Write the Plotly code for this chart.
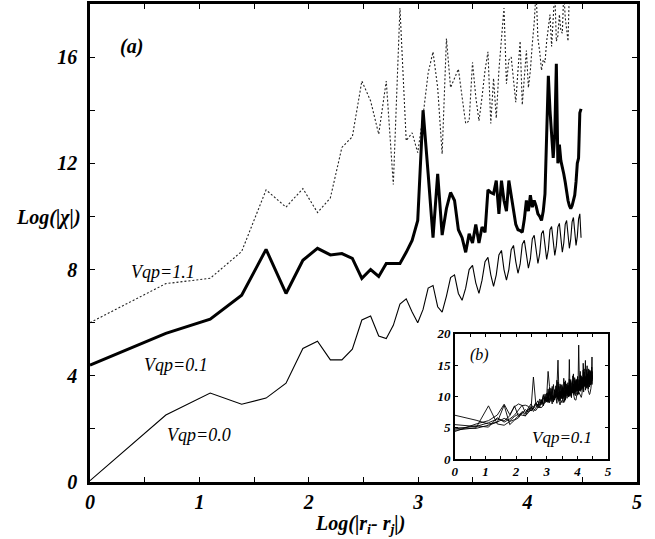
import numpy as np
import plotly.graph_objects as go

# distance |r_i - r_j| (lattice sites)
distance = list(range(1, 90))

# Panel (a): Log(|chi|) for three couplings
vqp_00 = [0.05, 2.52, 3.35, 2.93, 3.16, 3.72, 5.03, 5.3, 4.6, 4.6,
          5.0, 6.1, 6.25, 5.5, 5.4, 5.9, 6.7, 6.9, 6.4, 6.0,
          6.5, 7.3, 7.4, 6.6, 6.4, 7.0, 7.7, 7.8, 7.1, 6.84,
          7.3, 8.0, 8.16, 7.5, 7.1, 7.6, 8.3, 8.46, 7.8, 7.37,
          7.8, 8.55, 8.72, 8.0, 7.6, 8.0, 8.75, 8.91, 8.3, 7.86,
          8.2, 8.95, 9.1, 8.5, 8.05, 8.4, 9.15, 9.29, 8.7, 8.23,
          8.6, 9.35, 9.47, 8.9, 8.38, 8.75, 9.5, 9.62, 9.0, 8.53,
          8.9, 9.6, 9.74, 9.15, 8.65, 9.0, 9.7, 9.85, 9.3, 8.8,
          9.15, 9.8, 9.96, 9.4, 8.91, 9.25, 9.9, 10.1, 9.2]

vqp_01 = [4.4, 5.6, 6.13, 7.03, 8.76, 7.1, 8.35, 8.8, 8.55, 8.6,
          8.42, 7.67, 8.0, 7.74, 8.23, 8.23, 8.23, 8.65, 9.1, 9.85,
          14.0, 11.6, 9.2, 11.6, 9.3, 10.3, 10.9, 10.6, 9.5, 9.2,
          8.65, 9.35, 9.0, 9.7, 9.0, 9.6, 9.4, 11.0, 10.9, 10.85,
          11.35, 10.1, 11.35, 10.6, 10.2, 11.35, 10.8, 10.35, 9.7, 9.5,
          9.47, 9.4, 9.9, 10.6, 10.2, 10.8, 10.35, 10.6, 10.4, 10.1,
          10.0, 9.85, 10.2, 10.85, 12.7, 15.3, 14.0, 13.0, 12.2, 13.1,
          15.75, 12.0, 12.7, 12.1, 11.9, 11.6, 11.3, 10.9, 10.6, 10.4,
          10.3, 10.4, 10.6, 10.8, 11.3, 12.0, 12.2, 13.9, 14.05]

vqp_11 = [6.0, 7.47, 7.67, 8.68, 11.0, 10.35, 11.05, 10.15, 10.7, 12.6,
          13.0, 15.1, 14.35, 13.1, 15.1, 11.2, 17.85, 12.85, 13.15, 12.4,
          13.8, 15.4, 16.2, 14.85, 12.35, 16.7, 14.85, 15.2, 15.55, 14.5,
          13.5, 13.6, 15.8, 14.5, 13.6, 14.5, 15.5, 16.2, 13.5, 15.2,
          13.7, 15.5, 16.6, 17.85, 15.0, 15.9, 16.0, 15.0, 14.3, 15.5,
          16.6, 14.2, 15.2, 16.25, 14.85, 15.5, 16.5, 17.3, 18.5, 16.7,
          16.2, 15.5, 15.9, 15.8, 16.6, 17.2, 17.6, 16.4, 17.5, 18.5,
          16.6, 16.8, 17.6, 17.0, 16.9, 18.5, 17.5, 17.0, 16.6, 18.5,
          19.0, 19.4, 19.2, 19.6, 19.5, 19.8, 20.0, 19.7, 20.2]

# Panel (b): several Vqp=0.1 realisations
inset_b1 = [7.0, 6.2, 5.6, 5.9, 6.5, 6.1, 6.8, 7.2, 7.0, 6.9,
            7.4, 7.9, 13.1, 9.0, 8.2, 8.7, 9.5, 8.6, 10.4, 9.1,
            11.2, 9.4, 10.1, 8.8, 11.9, 9.5, 10.3, 8.9, 12.3, 10.0,
            9.3, 10.8, 9.6, 11.6, 9.9, 9.2, 12.5, 10.4, 9.7, 11.1,
            10.2, 12.8, 10.0, 11.3, 9.8, 12.1, 10.6, 13.6, 10.3, 11.5,
            10.1, 12.7, 10.9, 10.4, 13.1, 11.2, 10.5, 12.0, 10.9, 14.0,
            10.8, 12.2, 11.1, 12.9, 11.4, 12.5, 10.7, 14.4, 11.6, 12.1,
            11.0, 13.3, 11.9, 11.3, 14.9, 11.7, 12.4, 11.2, 13.7, 12.0,
            11.5, 14.2, 12.3, 11.8, 13.0, 12.1, 14.7, 11.9, 12.9]
inset_b2 = [4.6, 5.0, 8.5, 5.6, 5.4, 6.0, 6.3, 6.9, 7.6, 7.2,
            8.0, 7.7, 8.3, 8.9, 8.4, 9.2, 8.7, 9.8, 9.0, 10.5,
            9.3, 11.4, 9.6, 10.2, 9.1, 11.0, 9.8, 12.6, 9.5, 10.7,
            9.9, 11.8, 10.1, 9.6, 12.9, 10.4, 9.8, 11.5, 10.7, 12.2,
            10.0, 15.9, 10.5, 11.7, 10.3, 12.4, 10.9, 11.2, 10.6, 13.0,
            11.1, 10.7, 12.6, 11.4, 10.9, 12.9, 18.2, 13.8, 11.0, 12.3,
            11.6, 12.0, 12.4, 11.8, 12.7, 11.3, 13.5, 11.9, 12.2, 11.7,
            13.1, 12.4, 11.8, 14.3, 12.0, 12.8, 11.6, 13.9, 12.3, 12.0,
            13.4, 12.6, 11.9, 14.0, 12.5, 12.2, 13.2, 16.3, 12.8]
inset_b3 = [5.0, 4.9, 5.4, 5.9, 8.6, 5.5, 6.2, 6.6, 7.4, 6.9,
            7.8, 8.4, 7.6, 8.1, 8.8, 8.3, 9.4, 8.5, 9.9, 9.2,
            10.6, 9.0, 11.3, 9.7, 10.0, 9.4, 11.7, 9.9, 10.5, 9.2,
            12.0, 10.3, 9.7, 11.4, 10.0, 12.3, 9.6, 10.9, 10.4, 11.8,
            9.9, 11.0, 10.6, 12.7, 10.2, 11.3, 10.8, 12.0, 10.5, 11.6,
            12.4, 10.9, 11.5, 11.1, 13.2, 10.8, 11.9, 11.4, 12.6, 11.0,
            12.1, 13.0, 11.5, 12.2, 11.3, 14.2, 11.7, 12.5, 11.8, 13.0,
            12.0, 11.6, 12.9, 12.3, 13.6, 11.9, 12.7, 12.2, 14.4, 12.1,
            12.6, 13.1, 12.4, 13.7, 12.0, 13.3, 12.8, 12.5, 13.9]
inset_b4 = [5.5, 5.2, 5.8, 6.4, 6.1, 6.9, 8.5, 6.8, 7.3, 7.9,
            7.5, 8.2, 8.0, 8.7, 9.3, 8.6, 9.0, 10.1, 9.4, 9.8,
            9.1, 10.6, 9.7, 11.2, 9.5, 10.4, 9.9, 11.5, 15.8, 10.1,
            10.8, 9.8, 11.9, 10.3, 10.9, 10.0, 12.1, 10.6, 11.3, 10.2,
            11.7, 10.7, 12.5, 10.4, 11.1, 10.9, 13.3, 10.6, 11.8, 11.2,
            12.2, 10.9, 11.6, 12.8, 11.3, 12.0, 11.1, 12.5, 11.7, 13.4,
            11.4, 12.3, 11.9, 13.1, 11.6, 12.6, 12.0, 13.9, 11.8, 12.4,
            12.2, 12.9, 11.9, 13.6, 12.4, 12.7, 12.1, 13.2, 12.6, 14.1,
            12.3, 12.9, 12.5, 13.5, 12.7, 13.0, 14.6, 12.8, 13.3]
inset_b5 = [4.8, 5.3, 5.1, 6.6, 5.9, 6.4, 7.0, 7.8, 8.6, 7.4,
            8.2, 8.8, 8.1, 9.0, 8.5, 9.6, 8.9, 10.3, 9.3, 9.9,
            9.0, 10.8, 9.5, 10.1, 9.2, 11.1, 9.8, 10.4, 9.6, 11.6,
            9.4, 10.6, 10.0, 11.3, 9.7, 10.9, 10.3, 12.0, 10.1, 10.7,
            10.5, 11.4, 10.2, 12.2, 10.8, 11.0, 10.6, 11.9, 10.9, 12.5,
            10.7, 11.3, 11.0, 12.1, 11.5, 12.7, 11.2, 11.8, 11.4, 12.4,
            11.1, 13.3, 11.6, 12.0, 11.8, 12.8, 11.5, 12.3, 12.1, 13.1,
            11.7, 12.6, 12.0, 13.0, 11.9, 12.5, 12.3, 13.5, 12.1, 12.8,
            12.4, 13.2, 12.2, 12.9, 13.7, 12.5, 12.6, 13.4, 12.9]

main_xtickvals = [0, 1, 2, 3, 4, 5]
main_xticks = ["0", "1", "2", "3", "4", "5"]
main_ytickvals = [0, 4, 8, 12, 16]
main_yticks = ["0", "4", "8", "12", "16"]
inset_xtickvals = [0, 1, 2, 3, 4, 5]
inset_xticks = ["0", "1", "2", "3", "4", "5"]
inset_ytickvals = [0, 5, 10, 15, 20]
inset_yticks = ["0", "5", "10", "15", "20"]

SERIF = "Liberation Serif"
x_main = np.log(distance)

fig = go.Figure()
fig.add_trace(go.Scatter(x=x_main, y=vqp_11, mode="lines",
                         line=dict(color="#222", width=1.1, dash="2px,2px")))
fig.add_trace(go.Scatter(x=x_main, y=vqp_01, mode="lines",
                         line=dict(color="black", width=3)))
fig.add_trace(go.Scatter(x=x_main, y=vqp_00, mode="lines",
                         line=dict(color="black", width=1.1)))

for s in [inset_b1, inset_b2, inset_b3, inset_b4, inset_b5, vqp_01]:
    fig.add_trace(go.Scatter(x=np.log(distance[:len(s)]), y=s, mode="lines",
                             xaxis="x2", yaxis="y2",
                             line=dict(color="black", width=0.9)))

tick_font = dict(family=SERIF, size=20, color="black", style="italic", weight="bold")
small_font = dict(family=SERIF, size=13, color="black", style="italic", weight="bold")

axis_common = dict(ticks="inside", tickcolor="black", showline=True,
                   linecolor="black", mirror="ticks", showgrid=False,
                   zeroline=False, automargin=False, tickmode="array")

fig.update_layout(
    width=655, height=539,
    margin=dict(l=90, r=18, t=4, b=57, autoexpand=False),
    paper_bgcolor="white", plot_bgcolor="white",
    showlegend=False,
    xaxis=dict(domain=[0, 1], range=[0, 5],
               tickvals=main_xtickvals, ticktext=main_xticks,
               ticklen=5, tickwidth=1, linewidth=2.5, tickfont=tick_font,
               minor=dict(ticks="inside", dtick=0.5, ticklen=5, tickcolor="black", showgrid=False),
               **axis_common),
    yaxis=dict(domain=[0, 1], range=[0, 18],
               tickvals=main_ytickvals, ticktext=main_yticks,
               ticklen=5, tickwidth=1, linewidth=2.5, tickfont=tick_font,
               ticklabelstandoff=6,
               minor=dict(ticks="inside", dtick=2, ticklen=5, tickcolor="black", showgrid=False),
               **axis_common),
    xaxis2=dict(domain=[0.667, 0.947], range=[0, 5], anchor="y2",
                tickvals=inset_xtickvals, ticktext=inset_xticks,
                ticklen=3, linewidth=1.5, tickfont=small_font,
                minor=dict(ticks="inside", dtick=0.5, ticklen=3, tickcolor="black", showgrid=False),
                **axis_common),
    yaxis2=dict(domain=[0.048, 0.310], range=[0, 20], anchor="x2",
                tickvals=inset_ytickvals, ticktext=inset_yticks,
                ticklen=3, linewidth=1.5, tickfont=small_font,
                **axis_common),
)

ann_font = dict(family=SERIF, size=18, color="black", style="italic")
base = dict(showarrow=False, xanchor="center", yanchor="middle")
annotations = [
    dict(x=0.38, y=16.4, xref="x", yref="y", text="(a)",
         font=dict(family=SERIF, size=20, color="black", style="italic", weight="bold"), **base),
    dict(x=0.67, y=7.9, xref="x", yref="y", text="Vqp=1.1", font=ann_font, **base),
    dict(x=0.79, y=4.4, xref="x", yref="y", text="Vqp=0.1", font=ann_font, **base),
    dict(x=1.0, y=1.77, xref="x", yref="y", text="Vqp=0.0", font=ann_font, **base),
    dict(x=0.82, y=16.6, xref="x2", yref="y2", text="(b)",
         font=dict(family=SERIF, size=16, color="black", style="italic"), **base),
    dict(x=3.5, y=3.5, xref="x2", yref="y2", text="Vqp=0.1",
         font=dict(family=SERIF, size=17, color="black", style="italic"), **base),
    dict(x=-0.075, y=0.554, xref="paper", yref="paper", text="Log(|χ|)",
         font=tick_font, **base),
    dict(x=0.494, y=-0.088, xref="paper", yref="paper",
         text="Log(|r<sub>i</sub>- r<sub>j</sub>|)", font=tick_font, **base),
]
fig.update_layout(annotations=annotations)

fig.write_html("out.html")
